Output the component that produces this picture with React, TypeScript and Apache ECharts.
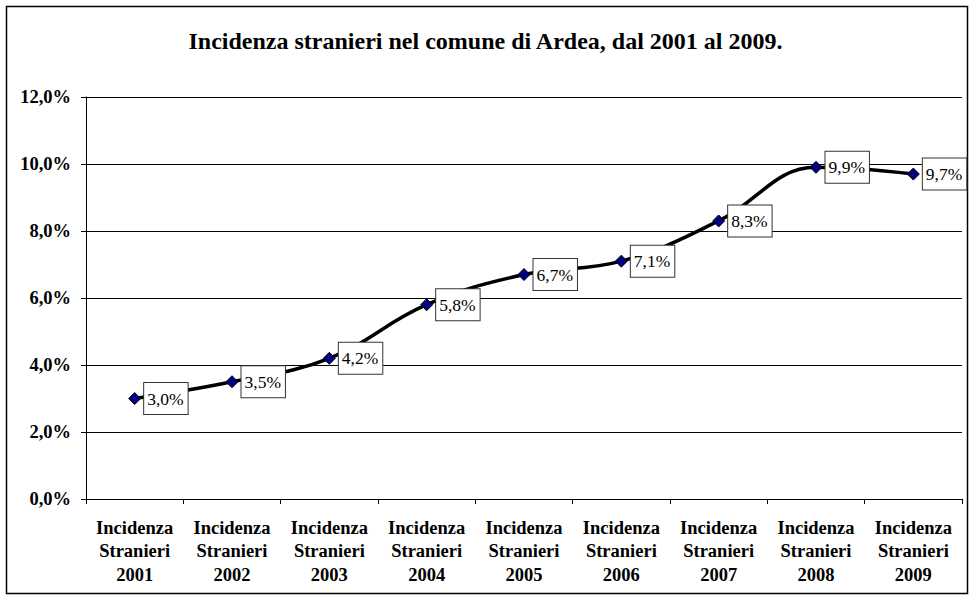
import React, { useEffect, useRef } from "react";
import * as echarts from "echarts";

const years = ["2001", "2002", "2003", "2004", "2005", "2006", "2007", "2008", "2009"];
const categories = years.map((y) => "Incidenza\nStranieri\n" + y);
const values = [3.0, 3.5, 4.2, 5.8, 6.7, 7.1, 8.3, 9.9, 9.7];
const titleText = "Incidenza stranieri nel comune di Ardea, dal 2001 al 2009.";

const fmt = (v: number) => v.toFixed(1).replace(".", ",") + "%";

export default function App() {
  const ref = useRef<HTMLDivElement>(null);
  useEffect(() => {
    document.body.style.margin = "0";
    const chart = echarts.init(ref.current!, null, { renderer: "svg" });
    const font = "'Liberation Serif', 'Times New Roman', serif";
    chart.setOption({
      animation: false,
      backgroundColor: "#ffffff",
      textStyle: { fontFamily: font },
      graphic: [
        {
          type: "rect",
          shape: { x: 6.5, y: 6.5, width: 961, height: 587 },
          style: { fill: "none", stroke: "#000", lineWidth: 1.5 },
          silent: true,
        },
      ],
      title: {
        text: titleText,
        left: "center",
        top: 24,
        textStyle: { fontFamily: font, fontWeight: "bold", fontSize: 24, color: "#000" },
      },
      grid: { left: 86, right: 9, top: 97, bottom: 97, containLabel: false },
      xAxis: {
        type: "category",
        data: categories,
        boundaryGap: true,
        axisLine: { lineStyle: { color: "#000", width: 1 } },
        axisTick: { show: true, length: 5, inside: false, lineStyle: { color: "#000" } },
        axisLabel: {
          interval: 0,
          fontFamily: font,
          fontWeight: "bold",
          fontSize: 18.5,
          color: "#000",
          lineHeight: 23.5,
          margin: 17,
          align: "center",
        },
      },
      yAxis: {
        type: "value",
        min: 0,
        max: 12,
        interval: 2,
        axisLine: { show: true, lineStyle: { color: "#000", width: 1 } },
        axisTick: { show: true, length: 5, lineStyle: { color: "#000" } },
        splitLine: { show: true, lineStyle: { color: "#000", width: 1 } },
        axisLabel: {
          formatter: (v: number) => fmt(v),
          fontFamily: font,
          fontWeight: "bold",
          fontSize: 18.5,
          color: "#000",
          margin: 15,
        },
      },
      series: [
        {
          type: "line",
          data: values,
          smooth: 0.4,
          symbol: "diamond",
          symbolSize: 12,
          lineStyle: { color: "#000", width: 3.5 },
          itemStyle: { color: "#000080", borderColor: "#000", borderWidth: 1 },
          label: {
            show: true,
            position: "right",
            distance: 3,
            formatter: (p: any) => fmt(p.value),
            fontFamily: font,
            fontSize: 17.5,
            color: "#000",
            backgroundColor: "#fff",
            borderColor: "#333",
            borderWidth: 1,
            padding: [7, 4, 6, 3],
          },
        },
      ],
    });
    return () => chart.dispose();
  }, []);
  return <div ref={ref} style={{ width: 971, height: 596 }} />;
}
